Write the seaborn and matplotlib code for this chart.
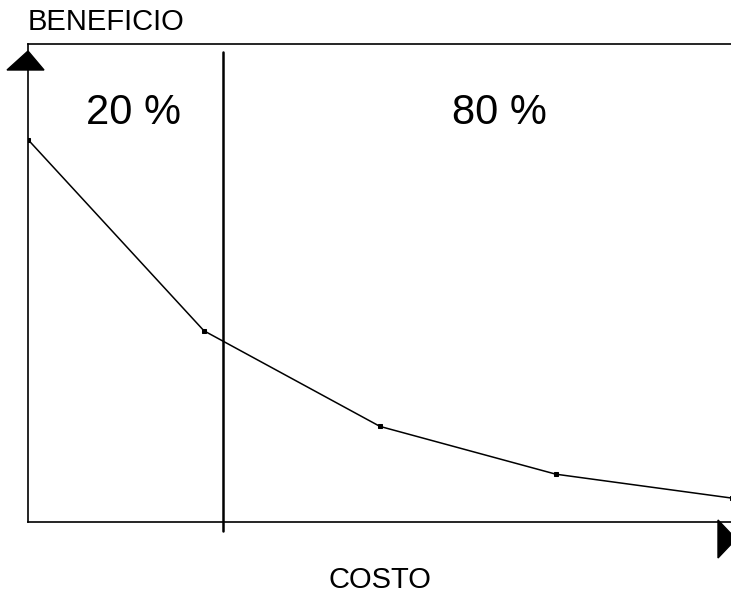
import numpy as np
import pandas as pd
import seaborn as sns
import matplotlib.pyplot as plt
from matplotlib.patches import Polygon

# data
costo = [0, 1, 2, 3, 4]
beneficio = [80, 40, 20, 10, 5]
corte = 1.11
etiquetas = ["20 %", "80 %"]

W, H = 731, 593
sns.set_theme(style="white")
plt.rcParams['font.family'] = ['Liberation Sans', 'DejaVu Sans']
plt.rcParams['text.color'] = 'black'

fig = plt.figure(figsize=(W / 100, H / 100), dpi=100)

def fx(px):
    return px / W

def fy(py):
    return 1 - py / H

ax = fig.add_axes([fx(28), fy(522), fx(731) - fx(28), fy(44) - fy(522)])
df = pd.DataFrame({"costo": costo, "beneficio": beneficio})
sns.lineplot(data=df, x="costo", y="beneficio", ax=ax, color="black", lw=1.1,
             marker="s", markersize=3, markeredgecolor="black")
ax.set_xlim(0, 3.995)
ax.set_ylim(0, 100)
ax.axvline(corte, ymin=-0.019, ymax=0.983, color="black", lw=1.8, clip_on=False)

for s in ["left", "bottom", "top"]:
    ax.spines[s].set_color("black")
    ax.spines[s].set_linewidth(1.2)
ax.spines["right"].set_visible(False)
ax.set_xticks([])
ax.set_yticks([])
ax.set_xlabel("")
ax.set_ylabel("")

# arrow heads
up = Polygon([(fx(7), fy(70)), (fx(44), fy(70)), (fx(28), fy(51))],
             closed=True, transform=fig.transFigure, color="black", clip_on=False)
right = Polygon([(fx(718), fy(520)), (fx(718), fy(558)), (fx(736), fy(539))],
                closed=True, transform=fig.transFigure, color="black", clip_on=False)
fig.patches.extend([up, right])

fig.text(fx(28), fy(22), "BENEFICIO", fontsize=21, ha="left", va="center", color="black")
fig.text(fx(133), fy(113), etiquetas[0], fontsize=30, ha="center", va="center", color="black")
fig.text(fx(499), fy(113), etiquetas[1], fontsize=30, ha="center", va="center", color="black")
fig.text(fx(380), fy(580), "COSTO", fontsize=21, ha="center", va="center", color="black")

fig.savefig("out.png", dpi=100)
